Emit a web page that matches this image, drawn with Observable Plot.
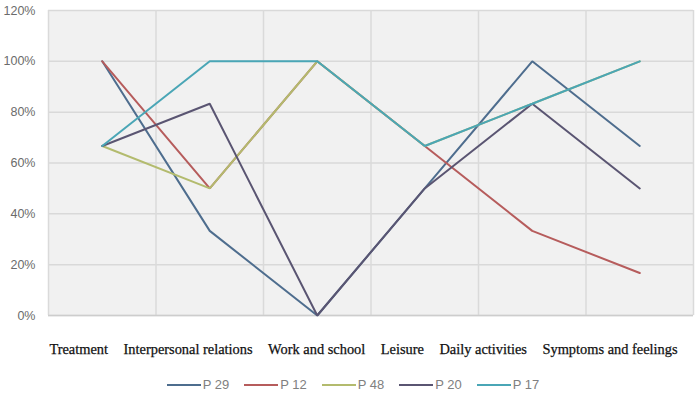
<!DOCTYPE html>
<html>
<head>
<meta charset="utf-8">
<script src="https://cdn.jsdelivr.net/npm/d3@7"></script>
<script src="https://cdn.jsdelivr.net/npm/@observablehq/plot@0.6"></script>
<style>
  html, body { margin: 0; padding: 0; background: #fff; }
  #wrap { width: 696px; height: 405px; position: relative; overflow: hidden; }
  #cats { display: flex; justify-content: center; gap: 15.5px; margin-left: 31px; margin-top: 9px; height: 20px; line-height: 20px;
          font-family: "Liberation Serif", serif; font-size: 14.4px; color: #111; white-space: nowrap; -webkit-text-stroke: 0.25px #111; }
  #legend { display: flex; justify-content: center; gap: 15px; margin-top: 19px; margin-left: 10px; height: 14px; line-height: 14px;
            font-family: "Liberation Sans", "DejaVu Sans", sans-serif; font-size: 13px; color: #808080; }
  #legend .item { display: flex; align-items: center; }
  #legend .sw { width: 34px; height: 2px; margin-right: 2px; }
</style>
</head>
<body>
<div id="wrap">
  <div id="chart"></div>
  <div id="cats"></div>
  <div id="legend"></div>
</div>
<script>
const categories = ["Treatment", "Interpersonal relations", "Work and school", "Leisure", "Daily activities", "Symptoms and feelings"];
const seriesNames = ["P 29", "P 12", "P 48", "P 20", "P 17"];
const seriesColors = ["#4e6d8e", "#b65c5c", "#b3bb6e", "#5a5572", "#4aa6b6"];
const P29 = [1.00, 0.333, 0.00, 0.50, 1.00, 0.667];
const P12 = [1.00, 0.50, 1.00, 0.667, 0.333, 0.167];
const P48 = [0.667, 0.50, 1.00, 0.667, 0.833, 1.00];
const P20 = [0.667, 0.833, 0.00, 0.50, 0.833, 0.50];
const P17 = [0.667, 1.00, 1.00, 0.667, 0.833, 1.00];
const seriesValues = [P29, P12, P48, P20, P17];
const yTicks = [0, 0.2, 0.4, 0.6, 0.8, 1.0, 1.2];

const rows = [];
seriesNames.forEach((s, si) => {
  seriesValues[si].forEach((v, i) => rows.push({series: s, idx: i, cat: categories[i], value: v}));
});
const bounds = d3.range(categories.length + 1).map(i => i - 0.5);

const chart = Plot.plot({
  width: 696,
  height: 330,
  marginTop: 10,
  marginBottom: 15,
  marginLeft: 48,
  marginRight: 3,
  style: {background: "#fff"},
  x: {domain: [-0.5, categories.length - 0.5], axis: null},
  y: {domain: [0, 1.2], ticks: yTicks, tickFormat: d3.format(".0%"), tickSize: 0, tickPadding: 13, label: null},
  color: {domain: seriesNames, range: seriesColors},
  marks: [
    Plot.frame({fill: "#f1f1f1", stroke: null}),
    Plot.ruleY(yTicks, {stroke: "#d9d9d9", strokeWidth: 1.5}),
    Plot.ruleX(bounds, {stroke: "#dadada", strokeWidth: 1.5}),
    Plot.ruleY([0], {stroke: "#cdcdcd", strokeWidth: 1.5}),
    Plot.axisY({ticks: yTicks, tickFormat: d3.format(".0%"), tickSize: 0, tickPadding: 13, label: null,
                fontFamily: "Liberation Sans, sans-serif", fontSize: 12.5, fill: "#6b6b6b"}),
    Plot.line(rows, {x: "idx", y: "value", z: "series", stroke: "series", strokeWidth: 2, strokeLinejoin: "miter"})
  ]
});
document.getElementById("chart").appendChild(chart);

const cats = document.getElementById("cats");
categories.forEach(c => { const s = document.createElement("span"); s.textContent = c; cats.appendChild(s); });

const legend = document.getElementById("legend");
seriesNames.forEach((s, i) => {
  const it = document.createElement("div"); it.className = "item";
  const sw = document.createElement("div"); sw.className = "sw"; sw.style.background = seriesColors[i];
  const t = document.createElement("span"); t.textContent = s;
  it.appendChild(sw); it.appendChild(t); legend.appendChild(it);
});
</script>
</body>
</html>
